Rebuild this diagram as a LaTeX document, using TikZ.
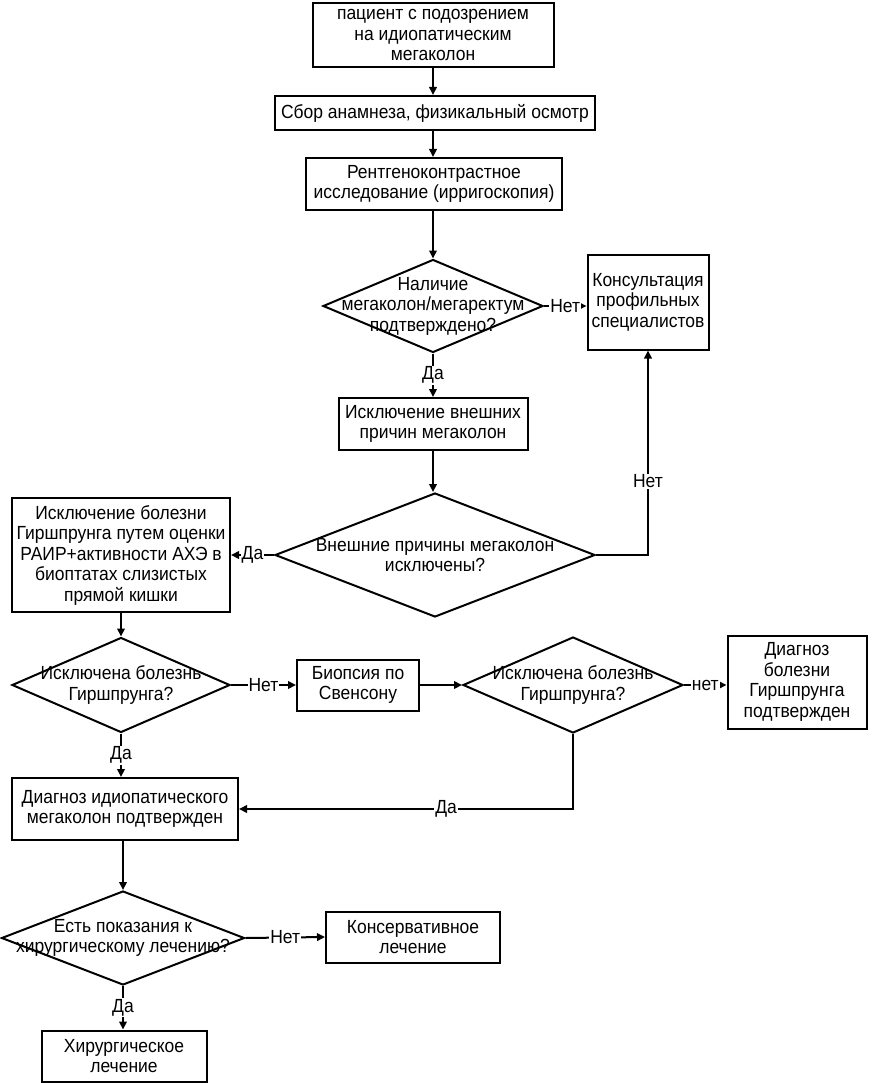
\documentclass[tikz,border=0pt]{standalone}
\usepackage{fontspec}
\setmainfont{Liberation Sans}[FakeStretch=0.92]
\usetikzlibrary{shapes.geometric,arrows.meta}
\begin{document}
\begin{tikzpicture}[x=1pt,y=-1pt,
  every node/.style={font=\fontsize{19}{20.5}\selectfont},
  box/.style={draw,line width=2pt,align=center,inner sep=0pt},
  dia/.style={draw,diamond,line width=2pt,inner sep=0pt},
  txt/.style={align=center,inner sep=0pt},
  lab/.style={fill=white,inner sep=1pt},
  arr/.style={line width=2pt,-{Triangle[length=8pt,width=7.5pt]}},
]
\useasboundingbox (0,0) rectangle (875,1083);
\node[box,minimum width=241,minimum height=64] (b1) at (433,35) {пациент с подозрением\\на идиопатическим\\мегаколон};
\node[box,minimum width=320,minimum height=34] (b2) at (435,113) {Сбор анамнеза, физикальный осмотр};
\node[box,minimum width=256,minimum height=52] (b3) at (434,184) {Рентгеноконтрастное\\исследование (ирригоскопия)};
\node[dia,minimum width=220,minimum height=93] (d1) at (433,306) {};
\node[txt] at (433,306) {Наличие\\мегаколон/мегаректум\\подтверждено?};
\node[box,minimum width=121,minimum height=95] (b5) at (648,302) {Консультация\\профильных\\специалистов};
\node[box,minimum width=189,minimum height=52] (b6) at (433,424) {Исключение внешних\\причин мегаколон};
\node[dia,minimum width=320,minimum height=124] (d2) at (435,555) {};
\node[txt] at (435,555) {Внешние причины мегаколон\\исключены?};
\node[box,minimum width=218,minimum height=114] (b8) at (121,555) {Исключение болезни\\Гиршпрунга путем оценки\\РАИР+активности АХЭ в\\биоптатах слизистых\\прямой кишки};
\node[dia,minimum width=218,minimum height=95] (d3) at (121,685) {};
\node[txt] at (121,685) {Исключена болезнь\\Гиршпрунга?};
\node[box,minimum width=122,minimum height=51] (b10) at (358,685) {Биопсия по\\Свенсону};
\node[dia,minimum width=220,minimum height=96] (d4) at (573,685) {};
\node[txt] at (573,685) {Исключена болезнь\\Гиршпрунга?};
\node[box,minimum width=139,minimum height=93] (b12) at (797,682) {Диагноз\\болезни\\Гиршпрунга\\подтвержден};
\node[box,minimum width=226,minimum height=62] (b13) at (125,809) {Диагноз идиопатического\\мегаколон подтвержден};
\node[dia,minimum width=243,minimum height=94] (d5) at (123,938) {};
\node[txt] at (123,938) {Есть показания к\\хирургическому лечению?};
\node[box,minimum width=174,minimum height=51] (b15) at (413,937) {Консервативное\\лечение};
\node[box,minimum width=165,minimum height=51] (b16) at (124,1056) {Хирургическое\\лечение};

\draw[arr] (b1.south) -- (b1.south |- b2.north);
\draw[arr] (b1.south |- b2.south) -- (b1.south |- b3.north);
\draw[arr] (d1.north |- b3.south) -- (d1.north);
\draw[arr] (d1.east) -- node[lab]{Нет} (d1.east -| b5.west);
\draw[arr] (d1.south) -- node[lab]{Да} (d1.south |- b6.north);
\draw[arr] (b6.south) -- (b6.south |- d2.north);
\draw[arr] (d2.west) -- node[lab]{Да} (b8.east);
\draw[arr] (d2.east) -| node[lab,pos=0.68]{Нет} (b5.south);
\draw[arr] (b8.south) -- (d3.north);
\draw[arr] (d3.east) -- node[lab]{Нет} (b10.west);
\draw[arr] (b10.east) -- (d4.west);
\draw[arr] (d4.east) -- node[lab]{нет} (d4.east -| b12.west);
\draw[arr] (d3.south) -- node[lab]{Да} (d3.south |- b13.north);
\draw[arr] (d4.south) |- node[lab,pos=0.69]{Да} (b13.east);
\draw[arr] (b13.south -| d5.north) -- (d5.north);
\draw[arr] (d5.east) -- node[lab]{Нет} (b15.west);
\draw[arr] (d5.south) -- node[lab]{Да} (d5.south |- b16.north);
\end{tikzpicture}
\end{document}
